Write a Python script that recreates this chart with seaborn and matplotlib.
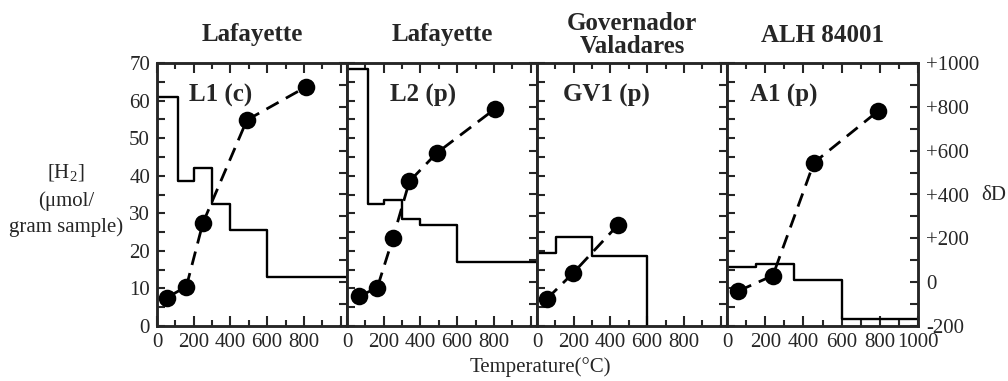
import matplotlib
matplotlib.use("Agg")
import matplotlib.pyplot as plt
import seaborn as sns
import numpy as np
import pandas as pd
from matplotlib.ticker import MultipleLocator

# ---------------- data ----------------
titles = ["Lafayette", "Lafayette", "Governador\nValadares", "ALH 84001"]
sample_labels = ["L1 (c)", "L2 (p)", "GV1 (p)", "A1 (p)"]

# H2 release (step histogram): start temperature of each step, and yield
l1_step_t = [0, 115, 200, 300, 400, 600, 1035]
l1_step_h2 = [61, 38.5, 42, 32.5, 25.5, 13, 13]
l2_step_t = [0, 115, 200, 300, 400, 600, 1035]
l2_step_h2 = [68.5, 32.5, 33.5, 28.5, 27, 17, 17]
gv1_step_t = [0, 105, 300, 600]
gv1_step_h2 = [19.3, 23.6, 18.7, 0]
a1_step_t = [0, 150, 350, 600, 1000]
a1_step_h2 = [15.7, 16.6, 12.3, 1.8, 1.8]

# deltaD points
l1_dd_t = [55, 160, 250, 490, 810]
l1_dd = [-70, -20, 270, 740, 890]
l2_dd_t = [65, 165, 250, 340, 490, 805]
l2_dd = [-65, -25, 200, 460, 590, 790]
gv1_dd_t = [55, 195, 440]
gv1_dd = [-75, 40, 260]
a1_dd_t = [60, 240, 455, 790]
a1_dd = [-40, 30, 545, 780]

x_max = [1035, 1035, 1035, 1000]
x_ticks = [0, 200, 400, 600, 800, 1000]
h2_ticks = [0, 10, 20, 30, 40, 50, 60, 70]
dd_ticks = [-200, 0, 200, 400, 600, 800, 1000]
dd_tick_labels = ["-200", "0", "+200", "+400", "+600", "+800", "+1000"]

steps = [(l1_step_t, l1_step_h2), (l2_step_t, l2_step_h2),
         (gv1_step_t, gv1_step_h2), (a1_step_t, a1_step_h2)]
points = [(l1_dd_t, l1_dd), (l2_dd_t, l2_dd), (gv1_dd_t, gv1_dd), (a1_dd_t, a1_dd)]

# ---------------- style ----------------
sns.set_style("ticks")
plt.rcParams["font.family"] = ["Liberation Serif", "DejaVu Serif"]
plt.rcParams["mathtext.fontset"] = "custom"
plt.rcParams["mathtext.rm"] = "Liberation Serif"
plt.rcParams["axes.linewidth"] = 1.8

TICK_FS = 15
W, H = 1008, 381
fig = plt.figure(figsize=(W / 100, H / 100), dpi=100)

lefts = [157, 347, 537, 727]
widths = [190, 190, 190, 191]
bottom_px, top_px = 326, 63
label_x = [0.17, 0.225, 0.135, 0.12]

for i in range(4):
    ax = fig.add_axes([lefts[i] / W, (H - bottom_px) / H, widths[i] / W, (bottom_px - top_px) / H])
    st, sh = steps[i]
    sns.lineplot(x=st, y=sh, ax=ax, color="black", linewidth=1.7,
                 drawstyle="steps-post", sort=False, estimator=None)
    ax.set_xlim(0, x_max[i])
    ax.set_ylim(0, 70)
    ax.set_xlabel("")
    ax.set_ylabel("")

    ax.set_xticks(x_ticks)
    ax.set_xticklabels([str(t) if (t < 1000 or i == 3) else "" for t in x_ticks])
    ax.xaxis.set_minor_locator(MultipleLocator(100))
    ax.set_yticks(h2_ticks)
    ax.yaxis.set_minor_locator(MultipleLocator(5))
    ax.tick_params(axis="x", which="major", direction="in", length=7, width=1.5,
                   top=True, bottom=True, labelsize=TICK_FS, pad=5)
    ax.tick_params(axis="x", which="minor", direction="in", length=4, width=1.5,
                   top=True, bottom=True)
    ax.tick_params(axis="y", which="both", direction="in", length=6, width=1.5,
                   left=True, right=False, labelsize=TICK_FS, pad=5, labelleft=(i == 0))
    for sp in ax.spines.values():
        sp.set_visible(True)
        sp.set_linewidth(1.8)

    ax2 = ax.twinx()
    pt, pd_ = points[i]
    sns.lineplot(x=pt, y=pd_, ax=ax2, color="black", linewidth=2.0,
                 sort=False, estimator=None)
    ax2.lines[0].set_dashes([5, 3])
    sns.scatterplot(x=pt, y=pd_, ax=ax2, color="black", s=160, linewidth=0, zorder=4)
    ax2.set_ylim(-200, 1000)
    ax2.set_xlim(0, x_max[i])
    ax2.set_xlabel("")
    ax2.set_ylabel("")
    ax2.set_yticks(dd_ticks)
    ax2.set_yticklabels(dd_tick_labels)
    ax2.yaxis.set_minor_locator(MultipleLocator(100))
    ax2.tick_params(axis="y", which="major", direction="in", length=6, width=1.5,
                    right=True, left=False, labelsize=TICK_FS, pad=6, labelright=(i == 3))
    ax2.tick_params(axis="y", which="minor", direction="in", length=6, width=1.5,
                    right=True, left=False)
    for sp in ax2.spines.values():
        sp.set_linewidth(1.8)

    ax.text(0.5, 1 + 28 / 263, titles[i], transform=ax.transAxes, ha="center",
            va="center", fontsize=18, fontweight="bold", linespacing=0.95)
    ax.text(label_x[i], 0.876, sample_labels[i], transform=ax.transAxes, ha="left",
            va="center", fontsize=18, fontweight="bold", zorder=5)

fig.text(66 / W, 1 - 200 / H, "[H$_\\mathregular{2}$]\n(\u03bcmol/\ngram sample)",
         ha="center", va="center", fontsize=TICK_FS, linespacing=1.45, multialignment="center")
fig.text(994 / W, 1 - 195 / H, "\u03b4D", ha="center", va="center", fontsize=TICK_FS)
fig.text(540 / W, 1 - 367 / H, "Temperature(\u00b0C)", ha="center", va="center", fontsize=TICK_FS)

fig.savefig("out.png", dpi=100)
